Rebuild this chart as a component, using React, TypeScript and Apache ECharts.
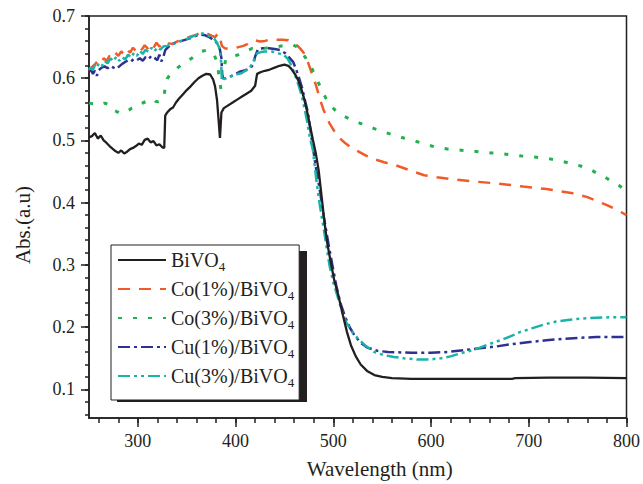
import React, { useEffect, useRef } from "react";
import * as echarts from "echarts";

const FONT = "Liberation Serif";
const INK = "#231f20";

const seriesNames = ["BiVO4", "Co(1%)/BiVO4", "Co(3%)/BiVO4", "Cu(1%)/BiVO4", "Cu(3%)/BiVO4"];
const seriesColors = ["#231f20", "#f15a29", "#22b14c", "#2e3192", "#1ab3a8"];

const xMajorTicks = [300, 400, 500, 600, 700, 800];
const xMinorTicks = [260, 280, 300, 320, 340, 360, 380, 400, 420, 440, 460, 480, 500, 520, 540, 560, 580, 600, 620, 640, 660, 680, 700, 720, 740, 760, 780, 800];
const yMajorTicks = [0.1, 0.2, 0.3, 0.4, 0.5, 0.6, 0.7];
const yMinorTicks = [0.06, 0.08, 0.1, 0.12, 0.14, 0.16, 0.18, 0.2, 0.22, 0.24, 0.26, 0.28, 0.3, 0.32, 0.34, 0.36, 0.38, 0.4, 0.42, 0.44, 0.46, 0.48, 0.5, 0.52, 0.54, 0.56, 0.58, 0.6, 0.62, 0.64, 0.66, 0.68, 0.7];

const bivo4 = [[250,0.505],[253,0.507],[256,0.512],[259,0.503],[262,0.508],[265,0.500],[268,0.496],[271,0.491],[274,0.487],[277,0.483],[280,0.480],[283,0.484],[286,0.479],[289,0.482],[292,0.486],[295,0.488],[298,0.491],[301,0.495],[304,0.493],[307,0.501],[310,0.503],[313,0.497],[316,0.499],[319,0.492],[322,0.494],[325,0.489],[327,0.488],[328,0.540],[330,0.545],[333,0.550],[336,0.553],[339,0.561],[342,0.567],[346,0.574],[350,0.581],[354,0.587],[358,0.594],[362,0.600],[366,0.604],[370,0.607],[374,0.606],[377,0.598],[379,0.587],[381,0.565],[382.5,0.535],[384,0.504],[385.5,0.545],[388,0.552],[392,0.556],[397,0.561],[402,0.566],[407,0.571],[412,0.576],[416,0.580],[420,0.588],[422,0.607],[426,0.610],[430,0.612],[435,0.614],[440,0.617],[445,0.620],[450,0.622],[454,0.620],[457,0.615],[461,0.606],[464,0.597],[467,0.584],[470,0.568],[473,0.548],[476,0.525],[479,0.502],[482,0.480],[485,0.452],[488,0.410],[491,0.368],[494,0.333],[498,0.299],[501,0.275],[505,0.252],[510,0.218],[514,0.192],[518,0.171],[523,0.153],[528,0.140],[535,0.129],[542,0.123],[550,0.120],[560,0.118],[580,0.117],[600,0.117],[620,0.117],[640,0.117],[660,0.117],[683,0.117],[686,0.118],[720,0.119],[760,0.119],[800,0.118]];

const co1 = [[250,0.612],[253,0.618],[256,0.622],[259,0.628],[262,0.624],[265,0.632],[268,0.628],[271,0.636],[274,0.633],[277,0.641],[280,0.636],[283,0.643],[286,0.638],[289,0.646],[292,0.641],[295,0.649],[298,0.644],[301,0.651],[304,0.646],[307,0.653],[310,0.648],[313,0.655],[316,0.649],[319,0.657],[322,0.651],[325,0.655],[328,0.652],[332,0.656],[336,0.655],[340,0.659],[344,0.662],[348,0.665],[352,0.666],[356,0.668],[360,0.670],[364,0.673],[368,0.672],[372,0.671],[376,0.668],[379,0.666],[382,0.672],[384,0.665],[386,0.652],[389,0.648],[393,0.647],[398,0.648],[403,0.650],[408,0.652],[412,0.655],[416,0.659],[420,0.661],[425,0.659],[430,0.660],[436,0.662],[442,0.662],[448,0.662],[454,0.661],[458,0.659],[462,0.654],[466,0.648],[470,0.640],[474,0.626],[478,0.608],[482,0.590],[486,0.568],[490,0.549],[496,0.528],[504,0.507],[512,0.496],[518,0.489],[525,0.483],[533,0.476],[542,0.470],[552,0.465],[566,0.459],[580,0.451],[593,0.444],[606,0.441],[620,0.438],[644,0.434],[667,0.431],[694,0.426],[718,0.422],[745,0.415],[760,0.409],[769,0.403],[780,0.396],[792,0.387],[800,0.380]];

const co3 = [[250,0.560],[254,0.559],[258,0.560],[262,0.558],[266,0.560],[270,0.558],[273,0.556],[276,0.548],[279,0.546],[282,0.543],[285,0.545],[288,0.547],[291,0.549],[294,0.552],[297,0.553],[300,0.557],[303,0.559],[306,0.561],[309,0.563],[312,0.566],[315,0.567],[318,0.563],[321,0.562],[324,0.563],[326,0.566],[328,0.584],[330,0.599],[333,0.606],[337,0.611],[341,0.617],[345,0.622],[350,0.627],[355,0.632],[360,0.638],[365,0.643],[370,0.645],[375,0.643],[378,0.638],[381,0.626],[383,0.605],[385,0.582],[387,0.610],[390,0.630],[396,0.634],[403,0.638],[410,0.643],[417,0.648],[424,0.648],[430,0.648],[437,0.650],[444,0.651],[452,0.653],[458,0.654],[462,0.651],[467,0.643],[472,0.632],[477,0.619],[481,0.606],[485,0.592],[488,0.582],[492,0.569],[496,0.558],[503,0.547],[511,0.539],[519,0.533],[527,0.528],[535,0.523],[542,0.519],[557,0.511],[572,0.504],[588,0.497],[603,0.490],[618,0.486],[633,0.484],[648,0.482],[662,0.480],[677,0.478],[693,0.475],[708,0.473],[723,0.470],[738,0.465],[753,0.459],[762,0.454],[769,0.448],[777,0.442],[784,0.435],[792,0.428],[800,0.419]];

const cu1 = [[250,0.610],[252,0.614],[254,0.607],[256,0.612],[258,0.604],[260,0.613],[263,0.617],[266,0.619],[269,0.616],[272,0.620],[275,0.617],[278,0.615],[281,0.619],[284,0.623],[287,0.626],[290,0.629],[293,0.627],[296,0.631],[299,0.629],[302,0.632],[305,0.628],[308,0.634],[311,0.631],[314,0.636],[317,0.633],[320,0.629],[322,0.638],[324,0.627],[326,0.634],[328,0.645],[331,0.650],[335,0.655],[340,0.658],[345,0.660],[349,0.662],[353,0.664],[357,0.667],[361,0.669],[365,0.670],[369,0.669],[373,0.666],[376,0.663],[379,0.660],[382,0.654],[384,0.646],[385.5,0.632],[386.5,0.600],[390,0.600],[395,0.603],[400,0.607],[405,0.611],[410,0.613],[415,0.616],[418,0.622],[420,0.635],[423,0.647],[428,0.648],[434,0.648],[440,0.647],[446,0.645],[451,0.640],[455,0.633],[459,0.626],[462,0.614],[465,0.600],[468,0.585],[471,0.564],[474,0.545],[477,0.512],[479,0.490],[482,0.458],[486,0.422],[490,0.380],[495,0.334],[499,0.300],[503,0.267],[507,0.240],[512,0.217],[517,0.199],[522,0.186],[528,0.175],[535,0.167],[545,0.162],[556,0.160],[580,0.159],[600,0.159],[617,0.160],[633,0.163],[650,0.166],[667,0.169],[684,0.173],[701,0.176],[718,0.179],[735,0.181],[752,0.183],[769,0.184],[785,0.184],[800,0.184]];

const cu3 = [[250,0.614],[252,0.617],[254,0.613],[256,0.621],[258,0.617],[260,0.624],[263,0.619],[266,0.628],[269,0.624],[272,0.632],[275,0.627],[278,0.635],[281,0.628],[284,0.634],[287,0.630],[290,0.638],[293,0.633],[296,0.641],[299,0.636],[302,0.644],[305,0.639],[308,0.646],[311,0.642],[314,0.649],[317,0.643],[320,0.650],[323,0.646],[326,0.651],[330,0.652],[334,0.655],[338,0.656],[342,0.659],[346,0.661],[350,0.663],[354,0.666],[358,0.668],[362,0.671],[366,0.672],[370,0.670],[374,0.667],[378,0.664],[381,0.657],[383.5,0.648],[385,0.632],[386,0.596],[389,0.600],[395,0.603],[400,0.606],[406,0.608],[410,0.612],[414,0.615],[418,0.627],[422,0.640],[426,0.642],[430,0.643],[437,0.643],[444,0.640],[449,0.638],[453,0.632],[456,0.624],[459,0.613],[462,0.600],[465,0.586],[468,0.570],[471,0.548],[473,0.532],[476,0.505],[479,0.486],[483,0.432],[486,0.398],[490,0.360],[496,0.300],[500,0.272],[505,0.246],[509,0.225],[513,0.208],[519,0.193],[525,0.182],[533,0.170],[542,0.160],[552,0.155],[562,0.152],[572,0.150],[586,0.148],[598,0.148],[610,0.150],[620,0.153],[630,0.158],[640,0.162],[650,0.167],[660,0.173],[671,0.179],[681,0.185],[691,0.192],[703,0.198],[715,0.204],[728,0.209],[742,0.212],[755,0.214],[769,0.215],[785,0.216],[800,0.216]];

const seriesData = [bivo4, co1, co3, cu1, cu3];
const seriesDash: any[] = ["solid", [12, 9], [4, 11], [12, 4, 3, 4], [12, 4, 3, 4, 3, 4]];
const seriesWidth = [2.3, 2.5, 3, 2.5, 2.5];

export default function App() {
  const ref = useRef<HTMLDivElement>(null);
  useEffect(() => {
    if (!ref.current) return;
    const chart = echarts.init(ref.current, undefined, { renderer: "svg" });
    const axisText = { fontFamily: FONT, fontSize: 18, color: INK };
    const option: any = {
      animation: false,
      backgroundColor: "#fff",
      grid: { left: 89, right: 12, top: 16, bottom: 65, show: true, borderColor: INK, borderWidth: 1.5, backgroundColor: "transparent" },
      legend: {
        orient: "vertical",
        left: 111,
        top: 245,
        padding: [5, 5, 11, 6],
        itemGap: 6,
        itemWidth: 48,
        itemHeight: 14,
        backgroundColor: "#fff",
        borderColor: INK,
        borderWidth: 1,
        z: 10,
        data: seriesNames,
        itemStyle: { opacity: 0 },
        formatter: (name: string) => `{n|${name.slice(0, -1)}}{s|4}`,
        textStyle: {
          fontFamily: FONT,
          color: INK,
          rich: {
            n: { fontFamily: FONT, fontSize: 20, lineHeight: 26, color: INK },
            s: { fontFamily: FONT, fontSize: 13, lineHeight: 8, verticalAlign: "bottom", color: INK },
          },
        },
      },
      graphic: [
        { type: "rect", z: 9, shape: { x: 117, y: 251, width: 190, height: 151 }, style: { fill: INK } },
      ],
      xAxis: [
        {
          type: "value", min: 250, max: 800, position: "bottom",
          axisLine: { show: true, lineStyle: { color: INK, width: 1.5 } },
          axisTick: { show: true, inside: false, length: 9, customValues: xMajorTicks, lineStyle: { color: INK, width: 1.5 } },
          axisLabel: { customValues: xMajorTicks, margin: 14, ...axisText },
          splitLine: { show: false },
          name: "Wavelength (nm)", nameLocation: "middle", nameGap: 40,
          nameTextStyle: { fontFamily: FONT, fontSize: 21, color: INK, padding: [0, 0, 0, 44] },
        },
        {
          type: "value", min: 250, max: 800, position: "bottom",
          axisLine: { show: false },
          axisTick: { show: true, inside: false, length: 5, customValues: xMinorTicks, lineStyle: { color: INK, width: 1.5 } },
          axisLabel: { show: false },
          splitLine: { show: false },
        },
      ],
      yAxis: [
        {
          type: "value", min: 0.054, max: 0.7, position: "left",
          axisLine: { show: true, lineStyle: { color: INK, width: 1.5 } },
          axisTick: { show: true, inside: false, length: 8, customValues: yMajorTicks, lineStyle: { color: INK, width: 1.5 } },
          axisLabel: { customValues: yMajorTicks, margin: 14, formatter: (v: number) => v.toFixed(1), ...axisText },
          splitLine: { show: false },
          name: "Abs.(a.u)", nameLocation: "middle", nameGap: 56, nameRotate: 90,
          nameTextStyle: { fontFamily: FONT, fontSize: 21, color: INK, padding: [0, 16, 0, 0] },
        },
        {
          type: "value", min: 0.054, max: 0.7, position: "left",
          axisLine: { show: false },
          axisTick: { show: true, inside: false, length: 4, customValues: yMinorTicks, lineStyle: { color: INK, width: 1.5 } },
          axisLabel: { show: false },
          splitLine: { show: false },
        },
      ],
      series: seriesNames.map((name, i) => ({
        name,
        type: "line",
        xAxisIndex: 0,
        yAxisIndex: 0,
        data: seriesData[i],
        showSymbol: false,
        symbol: "none",
        smooth: false,
        z: i === 0 ? 3 : 2,
        itemStyle: { color: seriesColors[i] },
        lineStyle: { color: seriesColors[i], width: seriesWidth[i], type: seriesDash[i], cap: "butt" },
      })),
    };
    chart.setOption(option);
    return () => chart.dispose();
  }, []);
  return <div ref={ref} style={{ position: "absolute", left: 0, top: 0, width: 643, height: 484 }} />;
}
